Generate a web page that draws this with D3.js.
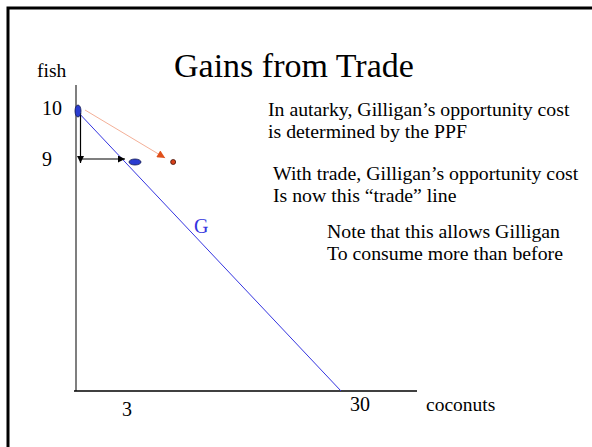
<!DOCTYPE html>
<meta charset="utf-8" />
<script src="https://d3js.org/d3.v7.min.js"></script>
<style>
  body { margin: 0; background: #fff; }
  text { font-family: "Liberation Serif", "Times New Roman", serif; }
</style>
<body>
  <div id="my_dataviz"></div>
  <script>
    // values
    const xTicks = [3, 30];
    const yTicks = [10, 9];
    const ppf = [{ coconuts: 0, fish: 10 }, { coconuts: 30, fish: 0 }];
    const autarkyPoints = [{ coconuts: 0, fish: 10, dir: "v" }, { coconuts: 3, fish: 9, dir: "h" }];
    const tradePoint = [{ coconuts: 8, fish: 9 }];
    const notes = [
      ["In autarky, Gilligan’s opportunity cost", "is determined by the PPF"],
      ["With trade, Gilligan’s opportunity cost", "Is now this “trade” line"],
      ["Note that this allows Gilligan", "To consume more than before"]
    ];

    const width = 592, height = 447;

    const svg = d3.select("#my_dataviz")
      .append("svg")
      .attr("width", width)
      .attr("height", height);

    // schematic slide: piecewise scales so the labelled values sit where drawn
    const x = d3.scaleLinear().domain([0, 3, 30]).range([76, 135, 341]);
    const y = d3.scaleLinear().domain([0, 9, 10]).range([391, 161, 110]);

    // slide frame
    svg.append("rect")
      .attr("x", 8).attr("y", 8)
      .attr("width", 700).attr("height", 600)
      .attr("fill", "none")
      .attr("stroke", "#000")
      .attr("stroke-width", 3);

    // arrow markers
    const defs = svg.append("defs");
    defs.append("marker")
      .attr("id", "blackArrow")
      .attr("viewBox", "0 0 10 10")
      .attr("refX", 10).attr("refY", 5)
      .attr("markerWidth", 9).attr("markerHeight", 7)
      .attr("markerUnits", "userSpaceOnUse")
      .attr("orient", "auto")
      .append("path").attr("d", "M0,0L10,5L0,10Z").attr("fill", "#000");
    defs.append("marker")
      .attr("id", "redArrow")
      .attr("viewBox", "0 0 10 10")
      .attr("refX", 10).attr("refY", 5)
      .attr("markerWidth", 9).attr("markerHeight", 8)
      .attr("markerUnits", "userSpaceOnUse")
      .attr("orient", "auto")
      .append("path").attr("d", "M0,0L10,5L0,10Z").attr("fill", "#e0501a");

    // title
    svg.append("text")
      .attr("x", 174).attr("y", 77)
      .style("font-size", "34px")
      .text("Gains from Trade");

    // axes
    svg.append("line")
      .attr("x1", x(0)).attr("x2", x(0))
      .attr("y1", 85).attr("y2", y(0))
      .attr("stroke", "#555").attr("stroke-width", 1.5);
    svg.append("line")
      .attr("x1", x(0) - 2).attr("x2", 417)
      .attr("y1", y(0)).attr("y2", y(0))
      .attr("stroke", "#000").attr("stroke-width", 1.5);

    svg.append("text").attr("x", 37).attr("y", 77)
      .style("font-size", "19.5px").text("fish");
    svg.append("text").attr("x", 426).attr("y", 411)
      .style("font-size", "19.5px").text("coconuts");

    svg.selectAll(".ytick")
      .data(yTicks)
      .enter()
      .append("text")
      .attr("class", "ytick")
      .attr("x", 42)
      .attr("y", d => y(d) + 5)
      .style("font-size", "20px")
      .text(d => d);

    svg.selectAll(".xtick")
      .data(xTicks)
      .enter()
      .append("text")
      .attr("class", "xtick")
      .attr("x", d => d === 3 ? x(d) - 8 : x(d) + 19)
      .attr("y", d => d === 3 ? 416 : 411)
      .attr("text-anchor", "middle")
      .style("font-size", "20px")
      .text(d => d);

    // PPF
    const line = d3.line().x(d => x(d.coconuts)).y(d => y(d.fish));
    svg.append("path")
      .datum(ppf)
      .attr("d", line)
      .attr("fill", "none")
      .attr("stroke", "#3535e0")
      .attr("stroke-width", 1);
    svg.append("text")
      .attr("x", 194).attr("y", 233)
      .attr("fill", "#3535e0")
      .style("font-size", "20px")
      .text("G");

    // opportunity cost arrows (down 1 fish, right 3 coconuts)
    const a0 = autarkyPoints[0], a1 = autarkyPoints[1];
    svg.append("line")
      .attr("x1", x(a0.coconuts) + 4.5).attr("x2", x(a0.coconuts) + 4.5)
      .attr("y1", y(a0.fish) + 3).attr("y2", y(a1.fish) + 2)
      .attr("stroke", "#000").attr("stroke-width", 1.2)
      .attr("marker-end", "url(#blackArrow)");
    svg.append("line")
      .attr("x1", x(a0.coconuts) + 6).attr("x2", x(a1.coconuts) - 10)
      .attr("y1", y(a1.fish) - 2).attr("y2", y(a1.fish) - 2)
      .attr("stroke", "#000").attr("stroke-width", 1.2)
      .attr("marker-end", "url(#blackArrow)");

    // trade line arrow
    svg.append("line")
      .attr("x1", x(a0.coconuts) + 9).attr("y1", y(a0.fish))
      .attr("x2", x(tradePoint[0].coconuts) - 8).attr("y2", y(tradePoint[0].fish) - 3)
      .attr("stroke", "#f4b098").attr("stroke-width", 1)
      .attr("marker-end", "url(#redArrow)");

    // production points
    svg.selectAll(".ppfPoint")
      .data(autarkyPoints)
      .enter()
      .append("ellipse")
      .attr("class", "ppfPoint")
      .attr("cx", d => x(d.coconuts) + (d.dir === "v" ? 2 : 0))
      .attr("cy", d => y(d.fish) + 1)
      .attr("rx", d => d.dir === "v" ? 3 : 6)
      .attr("ry", d => d.dir === "v" ? 6 : 3)
      .attr("fill", "#2a3cd0")
      .attr("stroke", "#101850")
      .attr("stroke-width", 0.8);

    svg.selectAll(".tradePoint")
      .data(tradePoint)
      .enter()
      .append("circle")
      .attr("class", "tradePoint")
      .attr("cx", d => x(d.coconuts))
      .attr("cy", d => y(d.fish) + 1)
      .attr("r", 2.5)
      .attr("fill", "#d8401a")
      .attr("stroke", "#401008")
      .attr("stroke-width", 0.8);

    // notes
    const notePos = [[268, 116], [273, 180], [327, 238]];
    notes.forEach((lines, i) => {
      const t = svg.append("text")
        .attr("x", notePos[i][0]).attr("y", notePos[i][1])
        .style("font-size", "19.8px");
      lines.forEach((s, j) => {
        t.append("tspan")
          .attr("x", notePos[i][0])
          .attr("dy", j === 0 ? 0 : 21.5)
          .text(s);
      });
    });
  </script>
</body>
